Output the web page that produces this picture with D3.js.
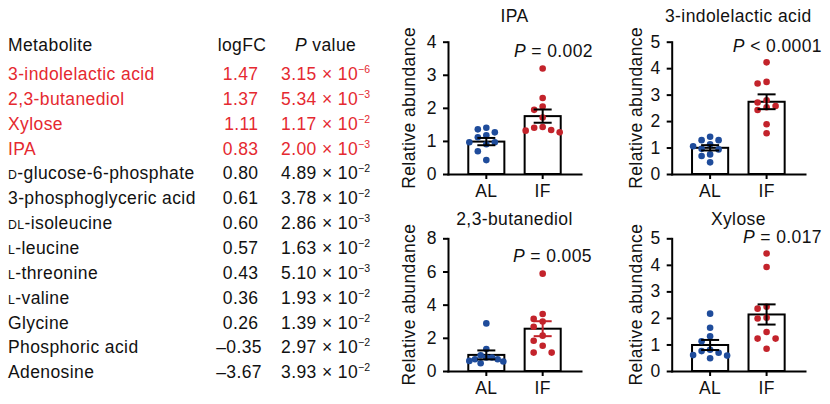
<!DOCTYPE html>
<html>
<head>
<meta charset="utf-8">
<script src="https://cdn.jsdelivr.net/npm/d3@7"></script>
<style>
  html, body { margin: 0; padding: 0; background: #fff; }
  svg { display: block; font-family: "Liberation Sans", Arial, Helvetica, sans-serif; }
</style>
</head>
<body>
<svg id="chart" width="830" height="404"></svg>
<script>
// ---------------- DATA ----------------
const metabolites = ["3-indolelactic acid", "2,3-butanediol", "Xylose", "IPA",
  "D-glucose-6-phosphate", "3-phosphoglyceric acid", "DL-isoleucine", "L-leucine",
  "L-threonine", "L-valine", "Glycine", "Phosphoric acid", "Adenosine"];
const logFC = [1.47, 1.37, 1.11, 0.83, 0.80, 0.61, 0.60, 0.57, 0.43, 0.36, 0.26, -0.35, -3.67];
const pMantissa = ["3.15", "5.34", "1.17", "2.00", "4.89", "3.78", "2.86", "1.63", "5.10", "1.93", "1.39", "2.97", "3.93"];
const pExponent = [-6, -3, -2, -3, -2, -2, -3, -2, -3, -2, -2, -2, -2];
const highlightedCount = 4;

const groups = ["AL", "IF"];
const panelTitles = ["IPA", "3-indolelactic acid", "2,3-butanediol", "Xylose"];
const panelP = ["= 0.002", "< 0.0001", "= 0.005", "= 0.017"];
const yMax = [4, 5, 8, 5];
const yStep = [1, 1, 2, 1];
const meanAL = [0.98, 0.99, 0.97, 0.98];
const meanIF = [1.75, 2.73, 2.55, 2.13];
const semAL = [0.11, 0.10, 0.27, 0.19];
const semIF = [0.20, 0.28, 0.45, 0.38];

const ipaAL = [1.40, 1.35, 1.26, 1.17, 1.11, 0.96, 0.96, 0.90, 0.69, 0.42];
const ipaIF = [3.19, 2.30, 2.04, 1.94, 1.71, 1.42, 1.40, 1.33, 1.31, 1.26];
const ilaAL = [1.41, 1.28, 1.28, 1.12, 1.05, 0.95, 0.93, 0.74, 0.68, 0.44];
const ilaIF = [4.22, 3.48, 3.42, 2.79, 2.70, 2.57, 2.52, 2.42, 1.88, 1.54];
const butAL = [2.87, 1.32, 0.95, 0.81, 0.81, 0.71, 0.71, 0.61, 0.57, 0.47];
const butIF = [5.87, 3.44, 3.14, 2.98, 2.67, 2.13, 1.82, 1.52, 1.11, 1.11];
const xylAL = [2.16, 1.63, 1.31, 1.12, 0.80, 0.75, 0.69, 0.60, 0.58, 0.48];
const xylIF = [4.43, 3.92, 2.42, 2.35, 2.01, 1.98, 1.47, 1.22, 1.22, 0.84];
const dotsAL = [ipaAL, ilaAL, butAL, xylAL];
const dotsIF = [ipaIF, ilaIF, butIF, xylIF];

// ---------------- LAYOUT / STYLE ----------------
const FONT = 17.5;
const LS = "0.4px";
const RED_TXT = "#e52930";
const BLUE = "#1f4c9b";
const RED = "#c3232b";
const layout = [
  { x0: 448, x1: 581, yTop: 41.7, yBot: 174, titleY: 22, pX: 593, pY: 56.7, labX: 415, errIF: "#000" },
  { x0: 671.7, x1: 805, yTop: 41.7, yBot: 174, titleY: 22, pX: 822, pY: 52.3, labX: 641.7, errIF: "#000" },
  { x0: 448, x1: 581, yTop: 238.3, yBot: 371, titleY: 225, pX: 592, pY: 262.3, labX: 415, errIF: RED },
  { x0: 671.7, x1: 805, yTop: 238.3, yBot: 371, titleY: 225, pX: 822, pY: 243.3, labX: 641.7, errIF: "#000" }
];

const svg = d3.select("#chart");
svg.append("rect").attr("width", 830).attr("height", 404).attr("fill", "#fff");

// ---------------- TABLE ----------------
const table = svg.append("g").attr("font-size", FONT).attr("letter-spacing", LS).attr("fill", "#111");
const rowY = d3.scalePoint().domain(d3.range(metabolites.length)).range([80, 378.2]);

table.append("text").attr("x", 8).attr("y", 50.7).text("Metabolite");
table.append("text").attr("x", 217.7).attr("y", 50.7).text("logFC");
const ph = table.append("text").attr("x", 295).attr("y", 50.7);
ph.append("tspan").attr("font-style", "italic").text("P");
ph.append("tspan").text(" value");

metabolites.forEach((name, i) => {
  const col = i < highlightedCount ? RED_TXT : "#111";
  const y = rowY(i);
  const t = table.append("text").attr("x", 8).attr("y", y).attr("fill", col);
  const m = name.match(/^(DL|D|L)-(.*)$/);
  if (m) {
    t.append("tspan").attr("font-size", 12.3).text(m[1]);
    t.append("tspan").text("-" + m[2]);
  } else {
    t.text(name);
  }
  const v = logFC[i];
  table.append("text").attr("x", v < 0 ? 262 : 258.5).attr("y", y).attr("text-anchor", "end")
    .attr("fill", col).text((v < 0 ? "\u2013" : "") + Math.abs(v).toFixed(2));
  const pt = table.append("text").attr("x", 281).attr("y", y).attr("fill", col);
  pt.append("tspan").text(pMantissa[i] + " \u00d7 10");
  pt.append("tspan").attr("font-size", 10.5).attr("dy", -7).attr("letter-spacing", "0px")
    .text("\u2212" + Math.abs(pExponent[i]));
});

// ---------------- PANELS ----------------
function swarm(values, y, spacing, thresh, maxHalf) {
  const order = values.map((v, i) => i).sort((a, b) => values[b] - values[a]);
  const placed = [];
  const off = new Array(values.length).fill(0);
  for (const i of order) {
    const py = y(values[i]);
    for (let k = 0; k < 50; k++) {
      const c = k === 0 ? 0 : (k % 2 ? -Math.ceil(k / 2) : Math.ceil(k / 2));
      const ok = placed.every(p => Math.abs(p.y - py) >= thresh || p.c !== c);
      if (ok) { placed.push({ y: py, c }); off[i] = c; break; }
    }
  }
  const maxC = d3.max(off, Math.abs) || 1;
  const sp = maxC * spacing > maxHalf ? maxHalf / maxC : spacing;
  return off.map(c => c * sp);
}

layout.forEach((L, p) => {
  const g = svg.append("g");
  const x = d3.scaleBand().domain(groups).range([L.x0, L.x1]).paddingInner(0.36).paddingOuter(0.36);
  const y = d3.scaleLinear().domain([0, yMax[p]]).range([L.yBot, L.yTop]);

  // title
  g.append("text").attr("x", (x("AL") + x("IF") + x.bandwidth()) / 2).attr("y", L.titleY)
    .attr("text-anchor", "middle").attr("font-size", FONT).attr("letter-spacing", LS)
    .attr("fill", "#111").text(panelTitles[p]);

  // y label
  g.append("text").attr("transform", `translate(${L.labX},${(L.yTop + L.yBot) / 2}) rotate(-90)`)
    .attr("text-anchor", "middle").attr("font-size", FONT).attr("letter-spacing", LS)
    .attr("fill", "#111").text("Relative abundance");

  // bars
  const means = [meanAL[p], meanIF[p]];
  const sems = [semAL[p], semIF[p]];
  g.selectAll("rect.bar").data(groups).join("rect").attr("class", "bar")
    .attr("x", d => x(d)).attr("width", x.bandwidth())
    .attr("y", (d, i) => y(means[i])).attr("height", (d, i) => L.yBot - y(means[i]))
    .attr("fill", "#fff").attr("stroke", "#000").attr("stroke-width", 2);

  // dots
  const sets = [dotsAL[p], dotsIF[p]];
  const colors = [BLUE, RED];
  sets.forEach((vals, gi) => {
    const offs = swarm(vals, y, 9, 7, 17);
    const cx = x(groups[gi]) + x.bandwidth() / 2;
    g.selectAll(null).data(vals).join("circle")
      .attr("cx", (d, i) => cx + offs[i]).attr("cy", d => y(d)).attr("r", 3.3)
      .attr("fill", colors[gi]);
  });

  // error bars
  const errCols = ["#000", L.errIF];
  groups.forEach((gname, gi) => {
    const cx = x(gname) + x.bandwidth() / 2;
    const hi = y(means[gi] + sems[gi]), lo = y(means[gi] - sems[gi]);
    const eg = g.append("g").attr("stroke", errCols[gi]).attr("stroke-width", 2);
    eg.append("line").attr("x1", cx).attr("x2", cx).attr("y1", hi).attr("y2", lo);
    eg.append("line").attr("x1", cx - 9).attr("x2", cx + 9).attr("y1", hi).attr("y2", hi);
    eg.append("line").attr("x1", cx - 9).attr("x2", cx + 9).attr("y1", lo).attr("y2", lo);
  });

  // axes
  const ya = g.append("g").attr("transform", `translate(${L.x0},0)`)
    .call(d3.axisLeft(y).tickValues(d3.range(0, yMax[p] + 0.001, yStep[p])).tickSize(5).tickSizeOuter(0).tickPadding(6).tickFormat(d3.format("d")));
  const xa = g.append("g").attr("transform", `translate(0,${L.yBot})`)
    .call(d3.axisBottom(x).tickSize(5).tickSizeOuter(0).tickPadding(6));
  [ya, xa].forEach(a => {
    a.attr("font-size", FONT).attr("font-family", null).attr("letter-spacing", LS);
    a.selectAll("path.domain").attr("stroke", "#000").attr("stroke-width", 2).attr("stroke-linecap", "square");
    a.selectAll(".tick line").attr("stroke", "#000").attr("stroke-width", 2);
    a.selectAll(".tick text").attr("fill", "#111");
  });

  // P label
  const pl = g.append("text").attr("x", L.pX).attr("y", L.pY).attr("text-anchor", "end")
    .attr("font-size", FONT).attr("letter-spacing", LS).attr("fill", "#111");
  pl.append("tspan").attr("font-style", "italic").text("P");
  pl.append("tspan").text(" " + panelP[p]);
});
</script>
</body>
</html>
